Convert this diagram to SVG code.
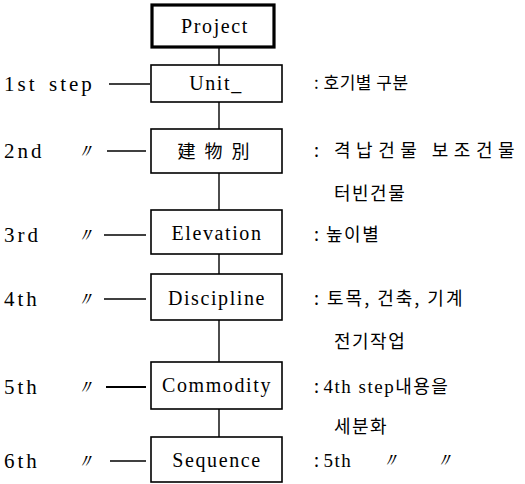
<svg xmlns="http://www.w3.org/2000/svg" width="525" height="484" viewBox="0 0 525 484">
<style>
.box{fill:#fff;stroke:#000;stroke-width:1.6}
.thick{stroke-width:3.2}
.lbl{font-family:"Liberation Serif","Noto Sans CJK KR",serif;font-size:20px;letter-spacing:1.6px;fill:#000}
.left{font-family:"Liberation Serif",serif;font-size:21px;letter-spacing:3px;fill:#000}
.dq{font-family:"Liberation Serif",serif;font-size:20px;font-style:italic;fill:#000}
.c{text-anchor:middle}
.kr{font-family:"Noto Sans CJK KR",sans-serif;font-size:18px;letter-spacing:1.5px;fill:#000}
.en{font-family:"Liberation Serif",serif;font-size:19px;letter-spacing:1.5px}
.ln{stroke:#000;stroke-width:1.4;fill:none}
</style>
<rect width="525" height="484" fill="#fff"/>
<g id="connectors">
<line class="ln" x1="219" y1="47" x2="219" y2="65"/>
<line class="ln" x1="219" y1="102" x2="219" y2="129"/>
<line class="ln" x1="219" y1="173" x2="219" y2="210"/>
<line class="ln" x1="219" y1="254" x2="219" y2="274"/>
<line class="ln" x1="219" y1="320" x2="219" y2="362"/>
<line class="ln" x1="219" y1="409" x2="219" y2="437"/>
<line class="ln" x1="109" y1="84" x2="150" y2="84"/>
<line class="ln" x1="107" y1="151" x2="146" y2="151"/>
<line class="ln" x1="104" y1="235" x2="146" y2="235"/>
<line class="ln" x1="104" y1="299" x2="146" y2="299"/>
<line class="ln" x1="106" y1="387" x2="146" y2="387" style="stroke-width:2.2"/>
<line class="ln" x1="110" y1="461" x2="146" y2="461"/>
</g>
<g id="project"><rect class="box thick" x="152" y="5" width="122" height="42"/><text class="lbl c" x="215" y="33">Project</text></g>
<g id="unit"><rect class="box" x="151" y="65" width="131" height="37"/><text class="lbl c" x="216" y="90">Unit_</text></g>
<g id="building"><rect class="box" x="151" y="129" width="131" height="44"/><text class="c" x="218" y="158" style="font-family:'Noto Sans CJK KR',sans-serif;font-size:18px;letter-spacing:9px">建物別</text></g>
<g id="elevation"><rect class="box" x="151" y="210" width="131" height="44"/><text class="lbl c" x="217" y="240">Elevation</text></g>
<g id="discipline"><rect class="box" x="151" y="274" width="131" height="46"/><text class="lbl c" x="217" y="305">Discipline</text></g>
<g id="commodity"><rect class="box" x="151" y="362" width="131" height="47"/><text class="lbl c" x="217" y="392">Commodity</text></g>
<g id="sequence"><rect class="box" x="151" y="437" width="131" height="45"/><text class="lbl c" x="217" y="467">Sequence</text></g>
<g id="left-labels">
<text class="left" x="4" y="91">1st</text><text class="left" x="49" y="91">step</text>
<text class="left" x="4" y="158">2nd</text><text class="dq" x="75" y="158">〃</text>
<text class="left" x="4" y="242">3rd</text><text class="dq" x="75" y="242">〃</text>
<text class="left" x="4" y="306">4th</text><text class="dq" x="75" y="306">〃</text>
<text class="left" x="4" y="394">5th</text><text class="dq" x="75" y="394">〃</text>
<text class="left" x="4" y="468">6th</text><text class="dq" x="75" y="468">〃</text>
</g>
<g id="right-labels">
<text class="kr" x="314" y="89" style="font-size:17px;letter-spacing:0.5px">: 호기별 구분</text>
<text class="kr" x="314" y="157" style="letter-spacing:5.5px">: 격납건물 보조건물</text>
<text class="kr" x="334" y="200">터빈건물</text>
<text class="kr" x="314" y="241">: 높이별</text>
<text class="kr" x="314" y="305" style="letter-spacing:2px">: 토목, 건축,  기계</text>
<text class="kr" x="334" y="348">전기작업</text>
<text class="kr" x="314" y="393">:<tspan class="en" dx="3">4th step</tspan>내용을</text>
<text class="kr" x="334" y="433">세분화</text>
<text class="kr" x="314" y="467">:<tspan class="en" dx="3">5th</tspan></text><text class="dq" x="380" y="467">〃</text><text class="dq" x="434" y="467">〃</text>
</g>
</svg>
